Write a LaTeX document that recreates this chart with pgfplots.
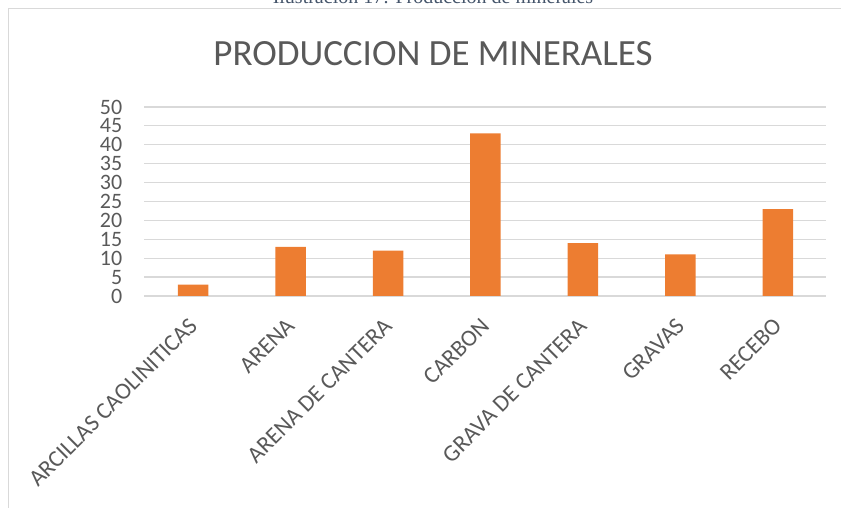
\documentclass[border=0pt]{standalone}
\usepackage{pgfplots}
\pgfplotsset{compat=1.18}
\usepackage{fontspec}
\setmainfont{Carlito}
\newfontfamily\capfont{Liberation Serif}
\definecolor{barorange}{HTML}{ED7D31}
\definecolor{gridgray}{HTML}{D9D9D9}
\definecolor{txtgray}{HTML}{595959}
\definecolor{capblue}{HTML}{44546A}
\begin{document}
\begin{tikzpicture}
\useasboundingbox (0,0) rectangle (841pt,508pt);
% caption partially cut at top
\node[anchor=base, inner sep=0pt, text=capblue, font=\capfont\fontsize{20}{24}\selectfont] at (433pt,504pt) {Ilustración 17: Producción de minerales};
% chart frame
\draw[gridgray, line width=1pt] (8pt,-5pt) -- (8pt,499pt) -- (850pt,499pt);
% title
\node[text=txtgray, font=\fontsize{37}{44}\selectfont, inner sep=0pt] at (433pt,454.5pt) {PRODUCCION DE MINERALES};
\begin{axis}[
  at={(144.5pt,212pt)}, anchor=south west,
  scale only axis, width=682pt, height=189pt,
  xmin=-0.5, xmax=6.5, ymin=0, ymax=50,
  axis line style={draw=none},
  major tick length=0pt,
  ytick={0,5,...,50},
  xtick={0,1,2,3,4,5,6},
  xticklabels={ARCILLAS CAOLINITICAS, ARENA, ARENA DE CANTERA, CARBON, GRAVA DE CANTERA, GRAVAS, RECEBO},
  ymajorgrids,
  grid style={gridgray, line width=1.2pt},
  /pgf/number format/assume math mode=true,
  yticklabel style={font=\fontsize{22}{22}\selectfont, text=txtgray, anchor=east, inner sep=0pt, xshift=-22pt},
  xticklabel style={font=\fontsize{23.5}{24}\selectfont, text=txtgray, yshift=-26pt, rotate=45, anchor=east, inner sep=0pt},
  ybar, bar width=30.5pt,
  clip=false,
]
\addplot[fill=barorange, draw=none] coordinates {(0,3) (1,13) (2,12) (3,43) (4,14) (5,11) (6,23)};
\end{axis}
\end{tikzpicture}
\end{document}
